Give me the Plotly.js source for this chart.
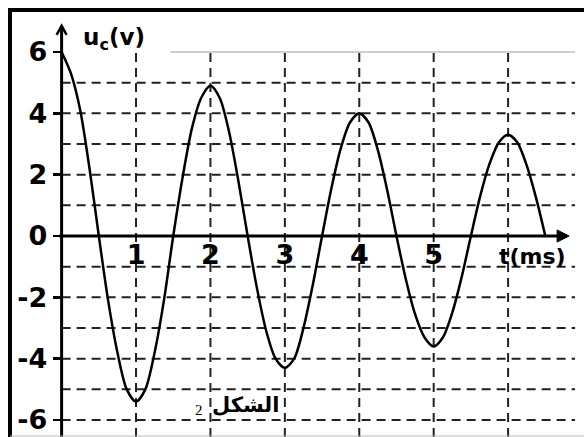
<!DOCTYPE html>
<html>
<head>
<meta charset="utf-8">
<script src="https://cdn.plot.ly/plotly-3.0.1.min.js"></script>
<style>html,body{margin:0;padding:0;background:#fff;}#chart{width:584px;height:437px;}</style>
</head>
<body>
<div id="chart"></div>
<script>
// Data: capacitor voltage u_c (V) vs time t (ms)
const tValues = [0, 0.125, 0.25, 0.375, 0.5, 0.625, 0.75, 0.875, 1, 1.125, 1.25, 1.375, 1.5,
                 1.625, 1.75, 1.875, 2, 2.125, 2.25, 2.375, 2.5, 2.625, 2.75, 2.875, 3, 3.125, 3.25, 3.375, 3.5,
                 3.625, 3.75, 3.875, 4, 4.125, 4.25, 4.375, 4.5, 4.625, 4.75, 4.875, 5, 5.125, 5.25, 5.375, 5.5,
                 5.625, 5.75, 5.875, 6, 6.125, 6.25, 6.375, 6.5];
const ucValues = [6, 5.3, 4.1, 2.2, 0, -2.1, -3.8, -5.0, -5.4, -5.0, -3.8, -2.1, 0,
                  1.9, 3.5, 4.5, 4.9, 4.5, 3.4, 1.8, 0, -1.7, -3.1, -4.0, -4.3, -4.0, -3.0, -1.6, 0,
                  1.55, 2.85, 3.7, 4.0, 3.7, 2.8, 1.5, 0, -1.4, -2.55, -3.3, -3.6, -3.3, -2.5, -1.35, 0,
                  1.3, 2.35, 3.05, 3.3, 3.05, 2.3, 1.25, 0];
const xTickVals = [1, 2, 3, 4, 5];
const yTickVals = [-6, -4, -2, 0, 2, 4, 6];
const vGridT = [1, 2, 3, 4, 5, 6];
const hGridU = [-6, -5, -4, -3, -2, -1, 1, 2, 3, 4, 5];

const W = 584, H = 437;
const xr = [-0.828, 7.02], yr = [-6.554, 7.695];
const px = p => p / W;            // pixel -> paper x
const py = p => 1 - p / H;        // pixel -> paper y
const kx = (xr[1] - xr[0]) / W;   // data units per pixel (x)
const ky = (yr[1] - yr[0]) / H;   // data units per pixel (y)

const dash = '9px,6px';
const shapes = [];
vGridT.forEach(t => shapes.push({type:'line', xref:'x', yref:'y', x0:t, x1:t, y0:yr[0], y1:6.1, line:{color:'#222', width:2, dash:dash}, layer:'below'}));
hGridU.forEach(u => shapes.push({type:'line', xref:'x', yref:'y', x0:0, x1:6.9, y0:u, y1:u, line:{color:'#222', width:2, dash:dash}, layer:'below'}));
shapes.push({type:'line', xref:'x', yref:'y', x0:1.46, x1:6.9, y0:6, y1:6, line:{color:'#cfcfcf', width:2}, layer:'below'});
// white label box
shapes.push({type:'rect', xref:'paper', yref:'paper', x0:px(183), x1:px(284), y0:py(437), y1:py(381), fillcolor:'#fff', line:{width:0}, layer:'below'});
// axes lines
const xTip = 6.82, yTip = 6.85;
shapes.push({type:'line', xref:'x', yref:'y', x0:-0.03, x1:xTip - 8*kx, y0:0, y1:0, line:{color:'#000', width:3}});
shapes.push({type:'path', xref:'x', yref:'y',
  path:`M ${xTip} 0 L ${xTip - 12*kx} ${6*ky} L ${xTip - 12*kx} ${-6*ky} Z`, fillcolor:'#000', line:{color:'#000', width:1}});
shapes.push({type:'line', xref:'x', yref:'y', x0:0, x1:0, y0:yr[0], y1:yTip, line:{color:'#000', width:3}});
shapes.push({type:'path', xref:'x', yref:'y',
  path:`M ${-5*kx} ${yTip - 9*ky} L 0 ${yTip} L ${5*kx} ${yTip - 9*ky}`, line:{color:'#000', width:2.5}});
// frame
shapes.push({type:'line', xref:'paper', yref:'paper', x0:px(8), x1:1, y0:py(10), y1:py(10), line:{color:'#000', width:4}});
shapes.push({type:'line', xref:'paper', yref:'paper', x0:px(10), x1:px(10), y0:py(8), y1:0, line:{color:'#000', width:4}});
shapes.push({type:'line', xref:'paper', yref:'paper', x0:px(10), x1:1, y0:py(436), y1:py(436), line:{color:'#bbb', width:1}});

const annotations = [
  {xref:'paper', yref:'paper', x:px(81), y:py(22), xanchor:'left', yanchor:'top', showarrow:false,
   text:'u<sub>c</sub>(v)', font:{family:'DejaVu Sans', size:23, color:'#000', weight:'bold'}},
  {xref:'paper', yref:'paper', x:px(568), y:py(256), xanchor:'right', yanchor:'middle', showarrow:false,
   text:'t(ms)', font:{family:'DejaVu Sans', size:22, color:'#000', weight:'bold'}},
  {xref:'paper', yref:'paper', x:px(281), y:py(405), xanchor:'right', yanchor:'middle', showarrow:false,
   text:'الشكل', font:{family:'DejaVu Sans', size:21, color:'#000', weight:'bold'}},
  {xref:'paper', yref:'paper', x:px(199), y:py(410), xanchor:'center', yanchor:'middle', showarrow:false,
   text:'2', font:{family:'Liberation Serif', size:15, color:'#000'}}
];

const trace = {x:tValues, y:ucValues, type:'scatter', mode:'lines', line:{color:'#000', width:2.5, shape:'spline', smoothing:0.8}, hoverinfo:'skip'};

const layout = {
  width:W, height:H, margin:{l:0, r:0, t:0, b:0},
  paper_bgcolor:'#fff', plot_bgcolor:'rgba(0,0,0,0)', showlegend:false,
  xaxis:{range:xr, domain:[0,1], anchor:'free', position:6.554/14.249, showgrid:false, zeroline:false, showline:false,
         tickmode:'array', tickvals:xTickVals, ticktext:xTickVals.map(String), ticks:'',
         tickfont:{family:'DejaVu Sans', size:27, color:'#000', weight:'bold'}, fixedrange:true},
  yaxis:{range:yr, domain:[0,1], anchor:'free', position:61.6/W, showgrid:false, zeroline:false, showline:false,
         tickmode:'array', tickvals:yTickVals, ticktext:yTickVals.map(String), ticks:'outside', ticklen:9, tickwidth:2.5, tickcolor:'#000',
         tickfont:{family:'DejaVu Sans', size:27, color:'#000', weight:'bold'}, fixedrange:true},
  shapes:shapes, annotations:annotations
};
Plotly.newPlot('chart', [trace], layout, {staticPlot:true, displayModeBar:false});
</script>
</body>
</html>
